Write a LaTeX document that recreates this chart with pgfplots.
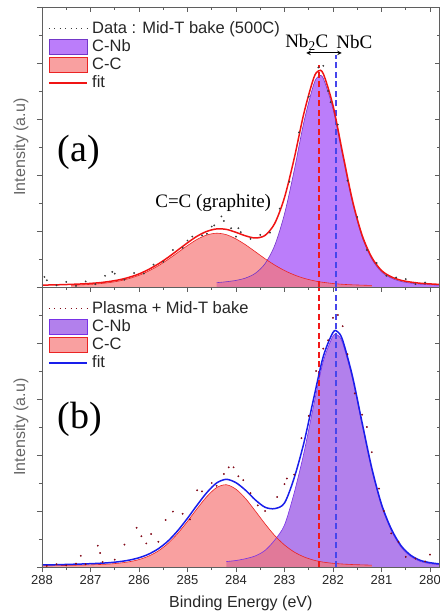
\documentclass[border=0pt]{standalone}
\usepackage{fontspec}
\setmainfont{Liberation Sans}
\newfontfamily\serifx{Liberation Serif}
\usepackage{pgfplots}
\pgfplotsset{compat=1.18}
\usepackage{pgfplotstable}

\definecolor{cnbA}{RGB}{187,125,250}
\definecolor{cnbAedge}{RGB}{115,55,200}
\definecolor{cnbB}{RGB}{178,128,236}
\definecolor{cnbBedge}{RGB}{120,50,230}
\definecolor{ccfill}{RGB}{246,119,119}
\definecolor{ccedge}{RGB}{235,35,35}
\definecolor{fitred}{RGB}{240,20,20}
\definecolor{fitblue}{RGB}{25,30,235}
\definecolor{datared}{RGB}{130,10,25}
\definecolor{datagray}{RGB}{60,60,60}
\definecolor{dashred}{RGB}{240,25,25}
\definecolor{dashblue}{RGB}{70,70,235}
\definecolor{frame}{RGB}{95,95,95}

\pgfplotstableread{
x cc cnb fit
288.0 0.022 0.011 0.033
287.8 0.025 0.012 0.037
287.6 0.028 0.013 0.041
287.4 0.032 0.015 0.047
287.2 0.038 0.016 0.054
287.0 0.047 0.017 0.064
286.8 0.060 0.018 0.078
286.6 0.080 0.020 0.100
286.4 0.109 0.021 0.130
286.2 0.151 0.023 0.174
286.0 0.208 0.025 0.233
285.8 0.285 0.029 0.314
285.6 0.380 0.033 0.413
285.4 0.492 0.037 0.529
285.2 0.616 0.043 0.659
285.0 0.740 0.049 0.789
284.8 0.851 0.057 0.908
284.6 0.929 0.065 0.994
284.4 0.960 0.077 1.037
284.2 0.935 0.094 1.029
284.0 0.858 0.118 0.976
283.8 0.752 0.161 0.913
283.6 0.629 0.246 0.875
283.4 0.504 0.418 0.922
283.2 0.391 0.746 1.137
283.0 0.294 1.304 1.598
282.8 0.216 2.079 2.295
282.6 0.156 2.946 3.102
282.4 0.113 3.613 3.726
282.3 0.096 3.762 3.858
282.2 0.083 3.725 3.808
282.0 0.062 3.180 3.242
281.8 0.048 2.338 2.386
281.6 0.039 1.512 1.551
281.4 0.033 0.892 0.925
281.2 0.028 0.500 0.528
281.0 0.025 0.270 0.295
280.8 0.022 0.160 0.182
280.6 0.020 0.100 0.120
280.4 0.018 0.070 0.088
280.2 0.017 0.050 0.067
280.0 0.015 0.040 0.055
279.8 0.014 0.032 0.046
}\panelA

\pgfplotstableread{
x cc cnb fit
288.0 0.021 0.015 0.036
287.8 0.023 0.016 0.039
287.6 0.026 0.017 0.043
287.4 0.030 0.018 0.048
287.2 0.034 0.019 0.053
287.0 0.039 0.020 0.059
286.8 0.045 0.022 0.067
286.6 0.054 0.024 0.078
286.4 0.070 0.026 0.096
286.2 0.094 0.029 0.123
286.0 0.133 0.032 0.165
285.8 0.195 0.035 0.230
285.6 0.288 0.039 0.327
285.4 0.422 0.043 0.465
285.2 0.602 0.048 0.650
285.0 0.815 0.055 0.870
284.8 1.045 0.062 1.107
284.6 1.259 0.071 1.330
284.4 1.418 0.082 1.500
284.2 1.469 0.097 1.566
284.0 1.389 0.116 1.505
283.8 1.219 0.149 1.368
283.6 0.998 0.199 1.197
283.4 0.770 0.297 1.067
283.2 0.560 0.483 1.043
283.0 0.393 0.750 1.143
282.8 0.268 1.324 1.592
282.6 0.181 2.036 2.217
282.4 0.123 2.879 3.002
282.2 0.087 3.673 3.760
282.0 0.066 4.123 4.189
281.9 0.059 4.138 4.197
281.8 0.053 3.995 4.048
281.6 0.044 3.367 3.411
281.4 0.038 2.541 2.579
281.2 0.033 1.734 1.767
281.0 0.029 1.093 1.122
280.8 0.026 0.657 0.683
280.6 0.024 0.360 0.384
280.4 0.021 0.190 0.211
280.2 0.019 0.100 0.119
280.0 0.017 0.060 0.077
279.8 0.015 0.040 0.055
}\panelB

\pgfplotstableread{
x y
287.95 0.18
287.9 0.12
287.7 0.03
287.5 0.09
287.3 0.02
287.1 0.10
286.9 0.05
286.7 0.20
286.55 0.27
286.5 0.24
286.3 0.13
286.1 0.25
285.9 0.24
285.7 0.40
285.5 0.45
285.3 0.66
285.1 0.70
285.0 0.83
284.9 0.90
284.7 0.92
284.6 0.95
284.5 1.08
284.45 1.10
284.3 1.26
284.25 1.18
284.1 1.05
284.0 0.90
283.95 1.05
283.9 0.98
283.7 0.86
283.5 0.93
283.3 0.97
283.1 1.40
282.9 1.88
282.7 2.76
282.5 3.40
282.3 3.92
282.2 3.95
282.1 3.50
282.05 3.30
281.9 2.90
281.7 1.90
281.5 1.25
281.3 0.66
281.1 0.43
280.9 0.20
280.7 0.17
280.5 0.14
280.3 0.05
280.1 0.08
}\dataA

\pgfplotstableread{
x y
287.9 0.02
287.7 0.05
287.5 0.03
287.3 0.06
287.2 0.20
287.1 0.05
286.85 0.38
286.8 0.25
286.75 0.09
286.5 0.13
286.3 0.40
286.05 0.70
285.95 0.55
285.85 0.42
285.75 0.59
285.6 0.45
285.45 0.84
285.3 0.99
285.1 0.95
284.95 0.85
284.8 1.37
284.7 1.35
284.5 1.50
284.4 1.45
284.25 1.66
284.15 1.78
284.05 1.78
283.95 1.62
283.85 1.55
283.7 1.32
283.55 1.10
283.4 1.00
283.15 1.25
283.0 1.48
282.95 1.58
282.8 1.65
282.65 2.30
282.5 2.70
282.35 3.50
282.2 3.90
282.1 4.05
282.0 4.45
281.9 4.50
281.8 4.30
281.7 3.80
281.55 3.10
281.4 2.72
281.3 2.50
281.2 2.05
281.05 1.40
280.95 1.00
280.8 0.60
280.65 0.45
280.5 0.18
280.3 0.15
280.1 0.10
280.0 0.22
}\dataB

\pgfplotsset{
  panelbase/.style={
    scale only axis, width=397.7pt, height=280pt,
    x dir=reverse, xmin=279.8, xmax=288, ymin=0, ymax=5,
    xtick={280,281,...,288}, minor x tick num=1,
    ytick={0,1,2,3,4,5}, minor y tick num=1,
    yticklabels={},
    major tick length=5pt, minor tick length=3pt,
    axis line style={frame, line width=0.9pt},
    tick style={frame, line width=0.8pt},
    /pgf/number format/assume math mode=true,
  },
  panel/.style={panelbase,
    tick align=outside, xtick pos=left, ytick pos=left,
    ticklabel style={font=\fontsize{13}{13}\selectfont, text=black!85},
    ylabel={Intensity (a.u)},
    ylabel style={at={(axis description cs:-0.0528,0.5)}, anchor=center, font=\fontsize{16}{16}\selectfont, text=black!60},
    legend style={at={(axis description cs:0,1)}, anchor=north west, xshift=6pt, yshift=-13pt,
      draw=none, fill=none, font=\fontsize{16.5}{16.5}\selectfont, text=black!85,
      row sep=0.5pt, inner sep=0pt,
      nodes={inner sep=0.5pt, text height=12.5pt, text depth=4pt},
      /tikz/every odd column/.append style={column sep=4pt}},
    legend cell align=left,
  },
  panelin/.style={panelbase, tick align=inside, xtick pos=right, ytick pos=right, xticklabels={}},
}

\begin{document}
\begin{tikzpicture}
\useasboundingbox (-42pt,-48pt) rectangle (397pt,567pt);

% ---------------- top panel (a)
\begin{axis}[panel, at={(0,280pt)}, xticklabels={}]
\addlegendimage{legend image code/.code={\draw[datagray, line width=0.9pt, dash pattern=on 0.9pt off 4.5pt] (0pt,0pt) -- (38pt,0pt);}}
\addlegendentry{Data : Mid-T bake (500C)}
\addlegendimage{legend image code/.code={\draw[draw=cnbAedge, fill=cnbA, line width=0.8pt] (0pt,-7.5pt) rectangle (38pt,7.5pt);}}
\addlegendentry{C-Nb}
\addlegendimage{legend image code/.code={\draw[draw=ccedge, fill=ccfill, fill opacity=0.7, line width=0.8pt] (0pt,-7.5pt) rectangle (38pt,7.5pt);}}
\addlegendentry{C-C}
\addlegendimage{legend image code/.code={\draw[fitred, line width=1.5pt] (0pt,0pt) -- (38pt,0pt);}}
\addlegendentry{fit}

\addplot[forget plot, draw=none, fill=cnbA, smooth, restrict x to domain=279.8:284.4] table[x=x, y=cnb] {\panelA} \closedcycle;
\addplot[forget plot, draw=none, fill=ccfill, fill opacity=0.7, smooth, restrict x to domain=281.2:287.4] table[x=x, y=cc] {\panelA} \closedcycle;
\addplot[forget plot, cnbAedge, line width=0.6pt, smooth, restrict x to domain=279.8:284.4] table[x=x, y=cnb] {\panelA};
\addplot[forget plot, ccedge, line width=0.6pt, smooth, restrict x to domain=281.2:287.4] table[x=x, y=cc] {\panelA};
\draw[dashred, line width=1.4pt, dash pattern=on 6pt off 3.5pt] (axis cs:282.29,0) -- (axis cs:282.29,3.96);
\draw[dashblue, line width=1.4pt, dash pattern=on 6pt off 3.5pt] (axis cs:281.94,0) -- (axis cs:281.94,4.14);
\addplot[forget plot, fitred, line width=1.5pt, smooth] table[x=x, y=fit] {\panelA};
\addplot[forget plot, only marks, mark=*, mark size=0.7pt, datagray] table[x=x, y=y] {\dataA};

\node[font=\serifx\fontsize{38}{38}\selectfont] at (axis cs:287.24,2.41) {(a)};
\node[font=\serifx\fontsize{19}{19}\selectfont] at (axis cs:284.47,1.5) {C=C (graphite)};
\node[font=\serifx\fontsize{19}{19}\selectfont] at (axis cs:282.54,4.375) {Nb\textsubscript{2}C};
\node[font=\serifx\fontsize{19}{19}\selectfont] at (axis cs:281.56,4.375) {NbC};
\draw[<->, >=stealth, line width=1pt] (axis cs:282.55,4.18) -- (axis cs:281.82,4.18);
\end{axis}
\begin{axis}[panelin, at={(0,280pt)}]
\end{axis}

% ---------------- bottom panel (b)
\begin{axis}[panel, at={(0,0)},
  xlabel={Binding Energy (eV)},
  xlabel style={at={(axis description cs:0.5,0)}, anchor=center, yshift=-36pt, font=\fontsize{16}{16}\selectfont, text=black!85}]
\addlegendimage{legend image code/.code={\draw[datared, line width=0.9pt, dash pattern=on 0.9pt off 4.5pt] (0pt,0pt) -- (38pt,0pt);}}
\addlegendentry{Plasma + Mid-T bake}
\addlegendimage{legend image code/.code={\draw[draw=cnbBedge, fill=cnbB, line width=0.8pt] (0pt,-7.5pt) rectangle (38pt,7.5pt);}}
\addlegendentry{C-Nb}
\addlegendimage{legend image code/.code={\draw[draw=ccedge, fill=ccfill, fill opacity=0.7, line width=0.8pt] (0pt,-7.5pt) rectangle (38pt,7.5pt);}}
\addlegendentry{C-C}
\addlegendimage{legend image code/.code={\draw[fitblue, line width=1.5pt] (0pt,0pt) -- (38pt,0pt);}}
\addlegendentry{fit}

\addplot[forget plot, draw=none, fill=cnbB, smooth, restrict x to domain=279.8:284.2] table[x=x, y=cnb] {\panelB} \closedcycle;
\addplot[forget plot, draw=none, fill=ccfill, fill opacity=0.7, smooth, restrict x to domain=281.2:288] table[x=x, y=cc] {\panelB} \closedcycle;
\addplot[forget plot, cnbBedge, line width=0.6pt, smooth, restrict x to domain=279.8:284.2] table[x=x, y=cnb] {\panelB};
\addplot[forget plot, ccedge, line width=0.6pt, smooth, restrict x to domain=281.2:288] table[x=x, y=cc] {\panelB};
\draw[dashred, line width=1.4pt, dash pattern=on 6pt off 3.5pt] (axis cs:282.29,0) -- (axis cs:282.29,5);
\draw[dashblue, line width=1.4pt, dash pattern=on 6pt off 3.5pt] (axis cs:281.94,0) -- (axis cs:281.94,5);
\addplot[forget plot, fitblue, line width=1.5pt, smooth] table[x=x, y=fit] {\panelB};
\addplot[forget plot, only marks, mark=*, mark size=0.7pt, datared] table[x=x, y=y] {\dataB};

\node[font=\serifx\fontsize{38}{38}\selectfont] at (axis cs:287.22,2.63) {(b)};
\end{axis}
\begin{axis}[panelin, at={(0,0)}]
\end{axis}
\end{tikzpicture}
\end{document}
